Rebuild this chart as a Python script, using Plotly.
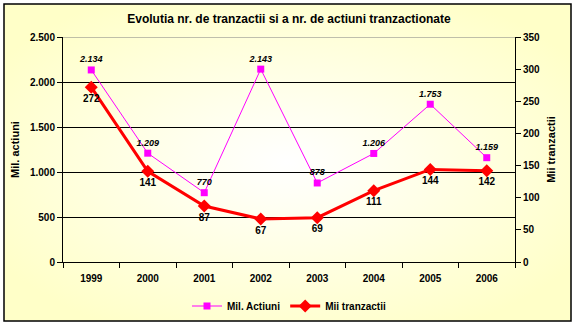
import urllib.parse
import plotly.graph_objects as go

# Data
years = ["1999", "2000", "2001", "2002", "2003", "2004", "2005", "2006"]
mil_actiuni = [2134, 1209, 770, 2143, 878, 1206, 1753, 1159]
mii_tranzactii = [272, 141, 87, 67, 69, 111, 144, 142]

left_ticks = [0, 500, 1000, 1500, 2000, 2500]
right_ticks = [0, 50, 100, 150, 200, 250, 300, 350]


def ro(v):
    return f"{v:,}".replace(",", ".")


FONT = "Liberation Sans, Arial, sans-serif"

fig = go.Figure()

fig.add_trace(go.Scatter(
    x=years, y=mil_actiuni, name="Mil. Actiuni",
    mode="lines+markers+text",
    line=dict(color="#FF00FF", width=1),
    marker=dict(symbol="square", size=7, color="#FF00FF"),
    text=[ro(v) for v in mil_actiuni], textposition="top center",
    textfont=dict(family=FONT, size=9, color="black", weight="bold", style="italic"),
    yaxis="y",
))

fig.add_trace(go.Scatter(
    x=years, y=mii_tranzactii, name="Mii tranzactii",
    mode="lines+markers+text",
    line=dict(color="#FF0000", width=3),
    marker=dict(symbol="diamond", size=10, color="#FF0000"),
    text=[str(v) for v in mii_tranzactii], textposition="bottom center",
    textfont=dict(family=FONT, size=10, color="black", weight="bold"),
    yaxis="y2",
))

# Soft radial background inside the frame
svg = ("<svg xmlns='http://www.w3.org/2000/svg' width='100' height='100' preserveAspectRatio='none'>"
       "<defs><radialGradient id='g' cx='0.5' cy='0.5' r='0.6'>"
       "<stop offset='0' stop-color='#FFFFFF'/><stop offset='1' stop-color='#FFFFC8'/>"
       "</radialGradient></defs><rect width='100' height='100' fill='url(#g)'/></svg>")
bg_src = "data:image/svg+xml;charset=utf-8," + urllib.parse.quote(svg)

W, H = 576, 326
L, R, T, B = 63, 61, 37, 64
pw, ph = W - L - R, H - T - B


def px_to_paper_x(px):
    return (px - L) / pw


def px_to_paper_y(py):
    return (H - B - py) / ph


fx0, fx1 = px_to_paper_x(4), px_to_paper_x(571)
fy0, fy1 = px_to_paper_y(321), px_to_paper_y(4)

fig.add_layout_image(dict(
    source=bg_src, xref="paper", yref="paper",
    x=fx0, y=fy1, sizex=fx1 - fx0, sizey=fy1 - fy0,
    sizing="stretch", layer="below", xanchor="left", yanchor="top",
))

fig.add_shape(type="rect", xref="paper", yref="paper",
              x0=fx0, x1=fx1, y0=fy0, y1=fy1,
              line=dict(color="black", width=1.5), layer="above")

# Top gridline in grey
fig.add_shape(type="line", xref="paper", yref="y", x0=0, x1=1, y0=2500, y1=2500,
              line=dict(color="#808080", width=1), layer="below")

fig.update_layout(
    width=W, height=H,
    margin=dict(l=L, r=R, t=T, b=B, autoexpand=False),
    paper_bgcolor="white",
    plot_bgcolor="rgba(0,0,0,0)",
    separators=",.",
    font=dict(family=FONT, size=10, color="black"),
    title=dict(
        text="<b>Evolutia nr. de tranzactii si a nr. de actiuni tranzactionate</b>",
        x=0.5, xref="paper", xanchor="center",
        y=1 - 19 / H, yref="container", yanchor="middle",
        font=dict(family=FONT, size=12, color="black"),
    ),
    xaxis=dict(
        type="category", tickson="boundaries", ticks="outside", ticklen=5,
        tickcolor="black", showline=True, linecolor="black", linewidth=1,
        showgrid=False, tickfont=dict(size=10, weight="bold"),
        ticklabelstandoff=7,
        range=[-0.5, 7.5],
    ),
    yaxis=dict(
        range=[0, 2500], tickvals=left_ticks, tickformat=",d",
        ticks="outside", ticklen=5, tickcolor="black",
        showline=True, linecolor="black", linewidth=1,
        showgrid=True, gridcolor="black", gridwidth=1, zeroline=False,
        tickfont=dict(size=10, weight="bold"),
        title=dict(text="<b>Mil. actiuni</b>", font=dict(size=11), standoff=8),
        automargin=False,
    ),
    yaxis2=dict(
        range=[0, 350], tickvals=right_ticks, overlaying="y", side="right",
        ticks="outside", ticklen=5, tickcolor="black",
        showline=True, linecolor="black", linewidth=1,
        showgrid=False, zeroline=False,
        tickfont=dict(size=10, weight="bold"),
        title=dict(text="<b>Mii tranzactii</b>", font=dict(size=11), standoff=8),
        automargin=False,
    ),
    legend=dict(
        orientation="h", x=0.5, xanchor="center",
        y=px_to_paper_y(306), yanchor="middle",
        font=dict(size=10, weight="bold"), bgcolor="rgba(0,0,0,0)",
        itemwidth=30,
    ),
    showlegend=True,
)

fig.write_html("out.html")
